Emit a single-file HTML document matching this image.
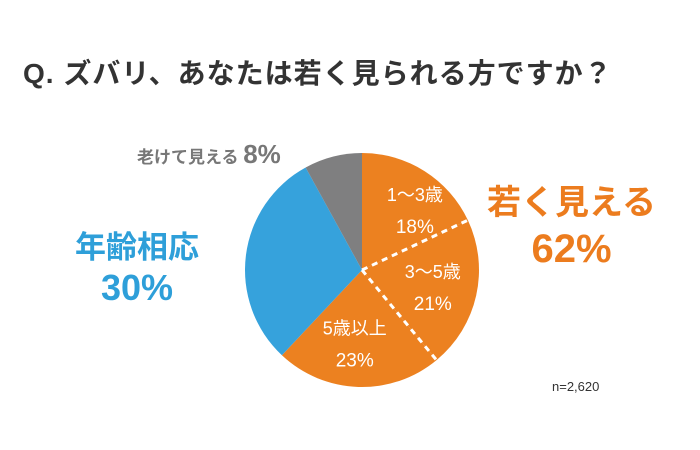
<!DOCTYPE html>
<html><head><meta charset="utf-8">
<style>
body{margin:0;background:#fff;}
#wrap{position:relative;width:700px;height:450px;overflow:hidden;font-family:"Liberation Sans","Noto Sans CJK JP",sans-serif;}
.t{position:absolute;white-space:nowrap;}
</style></head><body>
<div id="wrap">
<div class="t" style="left:23px;top:52px;font-size:28px;font-weight:bold;color:#333;letter-spacing:1px;">Q. ズバリ、あなたは若く見られる方ですか？</div>
<svg id="pie" width="700" height="450" style="position:absolute;left:0;top:0"></svg>
<div class="t" style="left:137px;top:139px;font-size:17px;font-weight:bold;color:#777;">老けて見える <span style="font-size:26px;">8%</span></div>
<div class="t" style="left:75px;top:228px;font-size:31px;font-weight:bold;color:#2e9fd9;line-height:40px;text-align:center;">年齢相応<br><span style="font-size:36px;">30%</span></div>
<div class="t" style="left:487px;top:180px;font-size:34px;font-weight:bold;color:#ec7c1e;line-height:46px;text-align:center;">若く見える<br><span style="font-size:40px;">62%</span></div>
<div class="t" style="left:552px;top:379px;font-size:13px;color:#333;">n=2,620</div>
</div>
<script>
const categories=["1～3歳","3～5歳","5歳以上","年齢相応","老けて見える"];
const values=[18,21,23,30,8];
const colors=["#ec8120","#ec8120","#ec8120","#36a2dc","#7f7f80"];
const cx=362,cy=270,r=117;
const svg=document.getElementById('pie');
const NS="http://www.w3.org/2000/svg";
const total=values.reduce((a,b)=>a+b,0);
function pt(frac,rad){const a=frac*2*Math.PI;return [cx+rad*Math.sin(a),cy-rad*Math.cos(a)];}
let acc=0;const bounds=[];
values.forEach((v,i)=>{
  const s=acc/total,e=(acc+v)/total;acc+=v;bounds.push([s,e]);
  const [x1,y1]=pt(s,r),[x2,y2]=pt(e,r);
  const p=document.createElementNS(NS,'path');
  p.setAttribute('d',`M${cx},${cy}L${x1},${y1}A${r},${r} 0 ${e-s>0.5?1:0} 1 ${x2},${y2}Z`);
  p.setAttribute('fill',colors[i]);
  
  
  svg.appendChild(p);
});
[1,2].forEach(i=>{
  const [x,y]=pt(bounds[i][0],r);
  const l=document.createElementNS(NS,'line');
  l.setAttribute('x1',cx);l.setAttribute('y1',cy);l.setAttribute('x2',x);l.setAttribute('y2',y);
  l.setAttribute('stroke','#fff');l.setAttribute('stroke-width','3');l.setAttribute('stroke-dasharray','6,5');
  
  
  svg.appendChild(l);
});
const labelR=[0.62,0.62,0.62];
[0,1,2].forEach(i=>{
  const m=(bounds[i][0]+bounds[i][1])/2;
  const [x,y]=pt(m,r*labelR[i]);
  const dx=i===0?14:(i===2?-5:0);
  const t1=document.createElementNS(NS,'text');
  t1.setAttribute('x',x+dx);t1.setAttribute('y',y-8);t1.setAttribute('text-anchor','middle');
  t1.setAttribute('fill','#fff');t1.setAttribute('font-size','18');
  t1.setAttribute('font-family','"Liberation Sans","Noto Sans CJK JP",sans-serif');
  t1.textContent=categories[i];
  
  
  svg.appendChild(t1);
  const t2=document.createElementNS(NS,'text');
  t2.setAttribute('x',x+dx);t2.setAttribute('y',y+24);t2.setAttribute('text-anchor','middle');
  t2.setAttribute('fill','#fff');t2.setAttribute('font-size','19');
  t2.setAttribute('font-family','"Liberation Sans",sans-serif');
  t2.textContent=values[i]+'%';
  
  
  svg.appendChild(t2);
});
</script>
</body></html>
